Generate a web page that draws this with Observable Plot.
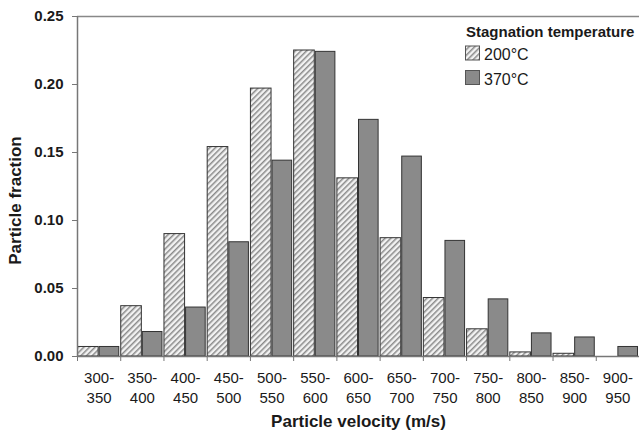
<!DOCTYPE html>
<html>
<head>
<meta charset="utf-8">
<script src="https://cdn.jsdelivr.net/npm/d3@7"></script>
<script src="https://cdn.jsdelivr.net/npm/@observablehq/plot@0.6"></script>
<style>
  body { margin: 0; background: white; }
  #chart svg [aria-label*="axis"] path,
  #chart svg [aria-label*="axis"] line { stroke: #777; }
</style>
</head>
<body>
<div id="chart"></div>
<script>
// Velocity bins (m/s)
const bins = ["300-350", "350-400", "400-450", "450-500", "500-550", "550-600", "600-650",
              "650-700", "700-750", "750-800", "800-850", "850-900", "900-950"];
const edges = [300, 350, 400, 450, 500, 550, 600, 650, 700, 750, 800, 850, 900, 950];
// Particle fraction per bin
const t200 = [0.007, 0.037, 0.090, 0.154, 0.197, 0.225, 0.131, 0.087, 0.043, 0.020, 0.003, 0.002, 0.000];
const t370 = [0.007, 0.018, 0.036, 0.084, 0.144, 0.224, 0.174, 0.147, 0.085, 0.042, 0.017, 0.014, 0.007];
const yTicks = [0, 0.05, 0.10, 0.15, 0.20, 0.25];
const seriesNames = ["200°C", "370°C"];

const rows = bins.map((b, i) => {
  const [lo, hi] = b.split("-").map(Number);
  return {bin: b, lo, hi, mid: (lo + hi) / 2, v200: t200[i], v370: t370[i]};
});

const font = "'Liberation Sans', Arial, Helvetica, sans-serif";

const chart = Plot.plot({
  width: 639,
  height: 431,
  marginLeft: 77,
  marginRight: 0,
  marginTop: 16,
  marginBottom: 75,
  style: {fontFamily: font, fontSize: "15px", color: "#1a1a1a", background: "white"},
  x: {type: "linear", domain: [edges[0], edges[edges.length - 1]], ticks: edges, tickFormat: () => "", tickSize: 5, label: null},
  y: {domain: [0, 0.25], ticks: yTicks, tickFormat: d3.format(".2f"), tickSize: 5, tickPadding: 9, label: null},
  marks: [
    Plot.rectY(rows, {x1: "lo", x2: "mid", y: "v200", fill: "url(#hatch)", stroke: "#333", strokeWidth: 1, insetLeft: 0.5, insetRight: 0.5}),
    Plot.rectY(rows, {x1: "mid", x2: "hi", y: "v370", fill: "#8a8a8a", stroke: "#333", strokeWidth: 1, insetLeft: 0.5, insetRight: 1.5}),
    Plot.ruleY([0.25], {stroke: "#888", strokeWidth: 1.5}),
    Plot.ruleY([0], {stroke: "#777", strokeWidth: 1.5}),
    Plot.ruleX([edges[0]], {stroke: "#777", strokeWidth: 1.5}),
    Plot.text(rows, {x: "mid", frameAnchor: "bottom", text: d => d.lo + "-\n" + d.hi, lineAnchor: "top", lineHeight: 1.33, dy: 12, fontSize: 15, fill: "#1a1a1a"}),
    Plot.text(["Particle velocity (m/s)"], {frameAnchor: "bottom", text: d => d, dy: 70, fontSize: 17, fontWeight: "bold", fill: "#1a1a1a"}),
    Plot.text(["Particle fraction"], {frameAnchor: "left", textAnchor: "middle", text: d => d, rotate: -90, dx: -62, dy: 14, fontSize: 17, fontWeight: "bold", fill: "#1a1a1a"})
  ]
});

const svgNode = chart.tagName.toLowerCase() === "svg" ? chart : chart.querySelector("svg");
const svg = d3.select(svgNode);
const defs = svg.insert("defs", ":first-child");
const pat = defs.append("pattern").attr("id", "hatch").attr("patternUnits", "userSpaceOnUse")
  .attr("width", 4).attr("height", 4).attr("patternTransform", "rotate(45)");
pat.append("rect").attr("width", 4).attr("height", 4).attr("fill", "#f2f2f2");
pat.append("line").attr("x1", 0.75).attr("y1", 0).attr("x2", 0.75).attr("y2", 4).attr("stroke", "#8a8a8a").attr("stroke-width", 1.5);

svg.selectAll('[aria-label^="y-axis"] text').style("font-weight", "bold").style("font-size", "15px");

// Legend
const lg = svg.append("g").style("font-family", font).style("text-anchor", "start").attr("fill", "#1a1a1a");
lg.append("text").attr("x", 466).attr("y", 37).style("font-size", "15px").style("font-weight", "bold").text("Stagnation temperature");
const swFills = ["url(#hatch)", "#8a8a8a"];
seriesNames.forEach((name, i) => {
  const y0 = 46 + i * 24.5;
  lg.append("rect").attr("x", 465.5).attr("y", y0).attr("width", 14).attr("height", 14)
    .attr("fill", swFills[i]).attr("stroke", "#555").attr("stroke-width", 1);
  lg.append("text").attr("x", 484).attr("y", y0 + 14).style("font-size", "16px").text(name);
});

document.getElementById("chart").appendChild(chart);
</script>
</body>
</html>
